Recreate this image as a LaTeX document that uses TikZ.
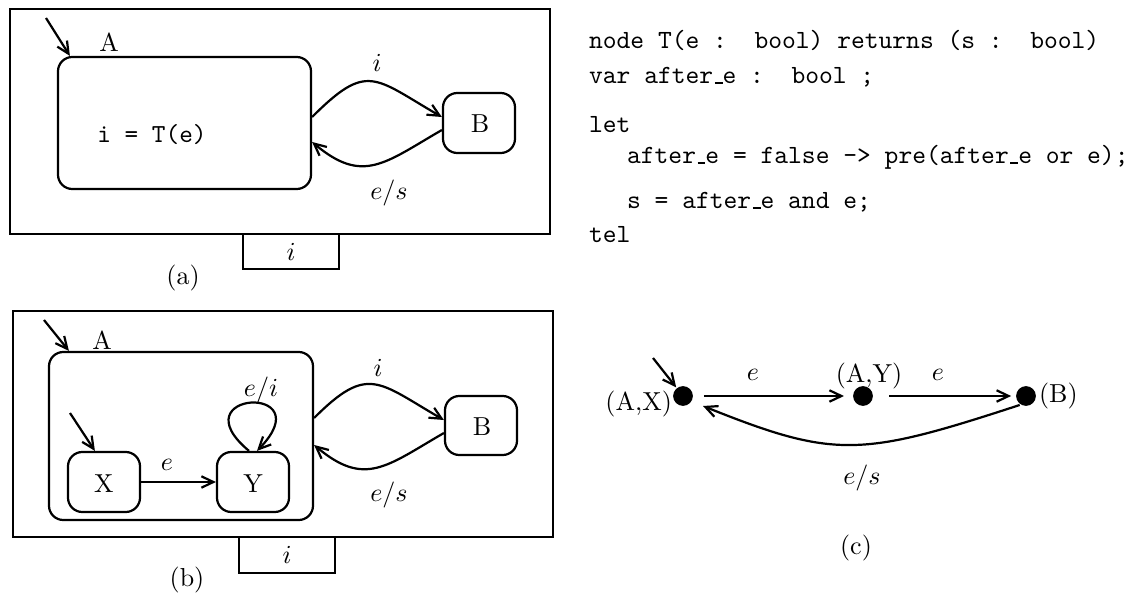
\documentclass[tikz,border=0pt]{standalone}
\usetikzlibrary{arrows.meta,fit,calc}
\newcommand{\usc}{\leavevmode\kern.06em\vbox{\hrule width.3em height .7pt}}
\begin{document}
\begin{tikzpicture}[x=0.3846pt,y=-0.3846pt, line width=0.85pt,
  st/.style={draw, rounded corners=5.5pt, inner sep=0pt},
  arr/.style={-{Straight Barb[length=4.6pt,width=4.4pt]}},
  frame/.style={draw, inner sep=0pt},
  lbl/.style={inner sep=0pt},
  dot/.style={circle, fill=black, inner sep=0pt, minimum size=7.6pt},
  code/.style={anchor=base west, inner sep=0pt, font=\fontsize{10.1pt}{12pt}\ttfamily}]
\useasboundingbox (0,0) rectangle (1135,595);

% ---------- (a) ----------
\node[frame, fit={(10,9) (550,234)}] (Fa) {};
\node[frame, fit={(243,234) (339,269)}] (Ia) {};
\node[lbl] (ia) at (Ia.center) {$i$};
\node[lbl] (capa) at (183,278) {(a)};
\node[st, fit={(58,57) (311,189)}] (Aa) {};
\node[lbl] (Ala) at (109,42) {A};
\node[lbl, font=\ttfamily] (eqa) at (152,135) {i = T(e)};
\node[st, fit={(443,93) (515,153)}] (Ba) {};
\node[lbl] (Bla) at ($(Ba.center)+(1,1)$) {B};
\coordinate (ina) at (46,18);
\draw[arr] (ina) -- ($(Aa.north west)+(13,0)$);
\draw[arr] ($(Aa.east)+(0,-6)$) to[out=45,in=150,looseness=1.55] ($(Ba.west)+(0,-6)$);
\draw[arr] ($(Ba.west)+(0,7)$) to[out=-150,in=-40,looseness=1.3] ($(Aa.east)+(0,19)$);
\node[lbl] (la1) at (377,63) {$i$};
\node[lbl] (la2) at (389,193) {$e/s$};

% ---------- (b) ----------
\node[frame, fit={(13,311) (553,537)}] (Fb) {};
\node[frame, fit={(239,537) (335,573)}] (Ib) {};
\node[lbl] (ib) at (Ib.center) {$i$};
\node[lbl] (capb) at (187,580) {(b)};
\node[st, fit={(49,352) (313,520)}] (Ab) {};
\node[lbl] (Alb) at (102,340) {A};
\node[st, fit={(445,396) (517,455)}] (Bb) {};
\node[lbl] (Blb) at ($(Bb.center)+(1,1)$) {B};
\node[st, fit={(68,452) (140,512)}] (X) {};
\node[lbl] (Xl) at ($(X.center)+(0,2)$) {X};
\node[st, fit={(217,452) (289,512)}] (Y) {};
\node[lbl] (Yl) at ($(Y.center)+(0,2)$) {Y};
\coordinate (inb) at (44,320);
\draw[arr] (inb) -- ($(Ab.north west)+(21,0)$);
\coordinate (inx) at (70,413);
\draw[arr] (inx) -- ($(X.north west)+(28,0)$);
\draw[arr] (X) -- (Y);
\node[lbl] (lx) at (167,465) {$e$};
\draw[arr] ($(Y.north)+(-4,0)$) .. controls +(-72,-60) and +(66,-68) .. ($(Y.north)+(4,0)$);
\node[lbl] (ly) at (261,390) {$e/i$};
\draw[arr] ($(Ab.east)+(0,-18)$) to[out=45,in=150,looseness=1.5] ($(Bb.west)+(0,-5.5)$);
\draw[arr] ($(Bb.west)+(0,7.5)$) to[out=-150,in=-40,looseness=1.3] ($(Ab.east)+(0,9)$);
\node[lbl] (lb1) at (378,368) {$i$};
\node[lbl] (lb2) at (389,495) {$e/s$};

% ---------- code ----------
\node[code] (c1) at (588,49) {node T(e :\ \ bool) returns (s :\ \ bool)};
\node[code] (c2) at (588,84) {var after\usc e :\ \ bool ;};
\node[code] (c3) at (588,133) {let};
\node[code] (c4) at (626,164) {after\usc e = false -> pre(after\usc e or e);};
\node[code] (c5) at (626,209) {s = after\usc e and e;};
\node[code] (c6) at (588,243) {tel};

% ---------- (c) ----------
\node[dot] (AX) at (683,396) {};
\node[dot] (AY) at (863,396) {};
\node[dot] (BB) at (1026,396) {};
\node[lbl, anchor=base east] (lAX) at (673,410) {(A,X)};
\node[lbl, anchor=base] (lAY) at ($(AY.north)+(6,-3)$) {(A,Y)};
\node[lbl, anchor=base west] (lBB) at (1038,402) {(B)};
\coordinate (inc) at (653,358);
\draw[arr] (inc) -- (AX);
\draw[arr, shorten <=3.8pt, shorten >=3.1pt] (AX) -- (AY);
\draw[arr, shorten <=5.8pt, shorten >=1.5pt] (AY) -- (BB);
\draw[arr] (BB.235) .. controls +(-159,52) and +(132,53) .. ($(AX)+(20,10)$);
\node[lbl] (le1) at (753,375) {$e$};
\node[lbl] (le2) at (938,375) {$e$};
\node[lbl] (les) at (862,478) {$e/s$};
\node[lbl] (capc) at (856,548) {(c)};
\end{tikzpicture}
\end{document}
